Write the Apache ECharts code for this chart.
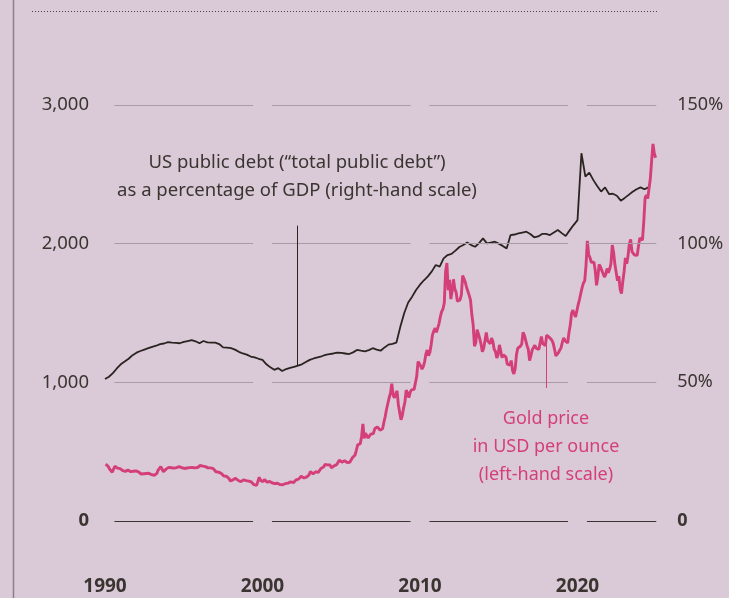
<!DOCTYPE html>
<html>
<head>
<meta charset="utf-8">
<script src="https://cdn.jsdelivr.net/npm/echarts@6/dist/echarts.min.js"></script>
<style>
  html, body { margin: 0; padding: 0; background: #dac9d6; }
  #chart { width: 729px; height: 598px; }
</style>
</head>
<body>
<div id="chart"></div>
<script>
// Gold price, USD per ounce, monthly from January 1990 to December 2024
const goldStartYear = 1990;
const goldMonthly = [
  410, 417, 393, 374, 369, 352, 362, 395, 389, 381, 381, 378,
  383, 363, 363, 358, 357, 367, 368, 356, 349, 359, 360, 361,
  354, 354, 345, 339, 337, 341, 353, 343, 345, 344, 335, 334,
  329, 330, 330, 342, 367, 372, 392, 379, 355, 364, 374, 383,
  387, 382, 384, 377, 381, 386, 385, 380, 392, 389, 384, 380,
  379, 377, 382, 391, 385, 387, 386, 383, 383, 383, 386, 387,
  400, 410, 396, 393, 392, 385, 383, 387, 383, 381, 378, 369,
  355, 346, 352, 344, 344, 341, 324, 324, 323, 325, 306, 289,
  289, 297, 296, 308, 299, 292, 293, 284, 289, 296, 294, 291,
  287, 288, 286, 282, 277, 262, 256, 257, 265, 315, 293, 283,
  284, 300, 286, 280, 275, 285, 282, 274, 273, 270, 266, 272,
  266, 262, 263, 261, 272, 270, 268, 273, 283, 283, 276, 276,
  282, 296, 294, 302, 314, 322, 314, 310, 319, 317, 319, 333,
  357, 359, 340, 328, 355, 356, 351, 360, 379, 379, 389, 407,
  414, 405, 406, 404, 383, 392, 398, 400, 406, 420, 439, 442,
  424, 423, 434, 429, 422, 431, 424, 438, 456, 470, 476, 510,
  549, 555, 557, 610, 700, 596, 633, 632, 598, 586, 627, 629,
  631, 665, 655, 679, 667, 655, 665, 665, 712, 754, 806, 803,
  889, 922, 990, 909, 888, 890, 939, 839, 829, 730, 760, 816,
  858, 943, 924, 890, 928, 946, 934, 949, 996, 1043, 1150, 1135,
  1118, 1095, 1114, 1148, 1205, 1233, 1193, 1215, 1271, 1342, 1370, 1391,
  1360, 1374, 1424, 1473, 1510, 1529, 1572, 1800, 1860, 1665, 1739, 1600,
  1656, 1743, 1674, 1650, 1585, 1596, 1594, 1630, 1770, 1747, 1722, 1684,
  1671, 1627, 1593, 1487, 1414, 1260, 1286, 1380, 1349, 1316, 1275, 1221,
  1244, 1300, 1360, 1299, 1287, 1279, 1320, 1296, 1239, 1222, 1176, 1200,
  1270, 1227, 1178, 1198, 1199, 1182, 1131, 1117, 1125, 1157, 1086, 1060,
  1097, 1200, 1246, 1242, 1260, 1276, 1360, 1340, 1326, 1266, 1238, 1157,
  1192, 1234, 1231, 1267, 1246, 1260, 1237, 1283, 1330, 1280, 1284, 1265,
  1340, 1331, 1325, 1335, 1304, 1281, 1238, 1190, 1198, 1215, 1221, 1250,
  1291, 1320, 1300, 1286, 1284, 1359, 1413, 1500, 1520, 1495, 1471, 1480,
  1560, 1597, 1592, 1683, 1716, 1732, 1846, 2020, 1922, 1900, 1866, 1858,
  1867, 1808, 1700, 1760, 1850, 1834, 1807, 1785, 1760, 1777, 1821, 1790,
  1817, 1856, 1990, 1937, 1849, 1837, 1733, 1765, 1670, 1640, 1726, 1798,
  1898, 1855, 1912, 1999, 2030, 1942, 1951, 1918, 1916, 1916, 1985, 2040,
  2034, 2025, 2160, 2330, 2350, 2326, 2398, 2470, 2600, 2720, 2650, 2620
];

// US total public debt as a percentage of GDP, quarterly from 1990 Q1 to 2024 Q3
const debtStartYear = 1990;
const debtQuarterly = [
  51.2, 52.0, 53.3, 55.0,
  56.5, 57.5, 58.5, 59.8,
  60.7, 61.3, 61.8, 62.3,
  62.8, 63.2, 63.8, 64.0,
  64.5, 64.3, 64.2, 64.1,
  64.6, 64.9, 65.2, 64.8,
  64.1, 64.9, 64.4, 64.3,
  64.3, 63.8, 62.6, 62.5,
  62.3, 61.8, 61.0, 60.4,
  60.0, 59.3, 59.0, 58.5,
  58.1, 56.5, 55.4, 54.5,
  55.1, 54.1, 54.8, 55.2,
  55.6, 56.0, 56.5, 57.3,
  58.1, 58.6, 59.0, 59.4,
  59.9, 60.2, 60.4, 60.7,
  60.6, 60.4, 60.2, 60.8,
  61.7, 61.4, 61.2, 61.6,
  62.3, 61.8, 61.4, 62.6,
  63.6, 63.9, 64.3, 70.0,
  75.0, 78.8, 80.9, 83.3,
  85.2, 86.8, 88.2, 90.0,
  92.3, 91.7, 94.7, 95.9,
  96.3, 97.5, 98.8, 99.5,
  100.4, 99.5, 98.9, 100.2,
  101.9, 100.1, 100.4, 100.7,
  100.0, 99.2, 98.3, 103.1,
  103.3, 103.7, 104.0, 104.3,
  103.5, 102.3, 102.6, 103.5,
  103.5, 103.1, 104.0, 104.9,
  103.8, 102.8, 104.8, 106.7,
  108.5, 132.6, 124.2, 125.6,
  123.0, 120.8, 118.8, 120.3,
  117.9, 118.0, 117.3, 115.5,
  116.5, 117.6, 118.7, 119.6,
  120.3, 119.6, 120.3
];

// Axis ticks
const yearTicks = [1990, 2000, 2010, 2020];
const goldTicks = [0, 1000, 2000, 3000];
const debtTicks = [0, 50, 100, 150];
const yearEnd = 2025;

const INK = '#3a3531';
const GOLD = '#d43f7a';
const DEBT = '#2a2421';
const GRID = '#a99aa6';

const goldData = goldMonthly.map((v, i) => [goldStartYear + (i + 0.5) / 12, v]);
const debtData = debtQuarterly.map((v, i) => [debtStartYear + i / 4, v]);

// Horizontal rules broken into decade segments with a small gap at each decade tick
const gap = 0.6;
const gridSegments = [];
goldTicks.forEach(t => {
  const bounds = yearTicks.concat([yearEnd]);
  for (let k = 0; k < yearTicks.length; k++) {
    const a = bounds[k] + gap;
    const b = k + 1 < yearTicks.length ? bounds[k + 1] - gap : yearEnd;
    gridSegments.push([
      { coord: [a, t], lineStyle: { color: t === 0 ? INK : GRID, width: 1, type: 'solid' } },
      { coord: [b, t] }
    ]);
  }
});

const chart = echarts.init(document.getElementById('chart'), null, { renderer: 'canvas' });

const labelFont = '"Noto Sans", "Open Sans", sans-serif';

chart.setOption({
  backgroundColor: '#dac9d6',
  animation: false,
  grid: { left: 105, right: 72.75, top: 105, bottom: 77 },
  xAxis: {
    type: 'value',
    min: 1990,
    max: yearEnd,
    interval: 10,
    axisLine: { show: false },
    axisTick: { show: false },
    splitLine: { show: false },
    axisLabel: {
      margin: 56,
      color: INK,
      fontFamily: labelFont,
      fontWeight: 'bold',
      fontSize: 19,
      showMaxLabel: false,
      formatter: v => (yearTicks.indexOf(v) >= 0 ? String(v) : '')
    }
  },
  yAxis: [
    {
      type: 'value',
      min: goldTicks[0],
      max: goldTicks[goldTicks.length - 1],
      interval: 1000,
      axisLine: { show: false },
      axisTick: { show: false },
      splitLine: { show: false },
      axisLabel: {
        margin: 16,
        color: INK,
        fontFamily: labelFont,
        fontSize: 18.5,
        formatter: v => (v === 0 ? '{z|0}' : v.toLocaleString('en-US')),
        rich: { z: { fontWeight: 'bold', fontSize: 18.5, color: INK, fontFamily: labelFont } }
      }
    },
    {
      type: 'value',
      min: debtTicks[0],
      max: debtTicks[debtTicks.length - 1],
      interval: 50,
      position: 'right',
      axisLine: { show: false },
      axisTick: { show: false },
      splitLine: { show: false },
      axisLabel: {
        margin: 21,
        color: INK,
        fontFamily: labelFont,
        fontSize: 18,
        formatter: v => (v === 0 ? '{z|0}' : v + '%'),
        rich: { z: { fontWeight: 'bold', fontSize: 18, color: INK, fontFamily: labelFont } }
      }
    }
  ],
  series: [
    {
      name: 'rules',
      type: 'line',
      data: [],
      z: 1,
      silent: true,
      markLine: {
        silent: true,
        symbol: 'none',
        label: { show: false },
        data: gridSegments
      }
    },
    {
      name: 'US public debt',
      type: 'line',
      yAxisIndex: 1,
      data: debtData,
      showSymbol: false,
      z: 3,
      lineStyle: { color: DEBT, width: 1.8 },
      itemStyle: { color: DEBT },
      markLine: {
        silent: true,
        symbol: 'none',
        label: { show: false },
        lineStyle: { color: DEBT, width: 1, type: 'solid' },
        data: [[{ coord: [2002.2, 106.5] }, { coord: [2002.2, 55.9] }]]
      }
    },
    {
      name: 'Gold price',
      type: 'line',
      data: goldData,
      showSymbol: false,
      z: 4,
      lineStyle: { color: GOLD, width: 2.9 },
      itemStyle: { color: GOLD },
      markLine: {
        silent: true,
        symbol: 'none',
        label: { show: false },
        lineStyle: { color: GOLD, width: 1, type: 'solid' },
        data: [[{ coord: [2018.0, 1300] }, { coord: [2018.0, 960] }]]
      }
    }
  ],
  graphic: [
    // frame: left rule and dotted top rule
    { type: 'line', silent: true, shape: { x1: 13.5, y1: 0, x2: 13.5, y2: 598 },
      style: { stroke: '#8c8189', lineWidth: 1.5 } },
    { type: 'line', silent: true, shape: { x1: 32, y1: 11.5, x2: 658, y2: 11.5 },
      style: { stroke: '#4a4440', lineWidth: 1, lineDash: [1, 2] } },
    // debt note
    { type: 'text', silent: true, x: 297, y: 163,
      style: { text: 'US public debt (“total public debt”)', align: 'center', verticalAlign: 'middle',
        fill: INK, font: '18.5px ' + labelFont } },
    { type: 'text', silent: true, x: 297, y: 191,
      style: { text: 'as a percentage of GDP (right-hand scale)', align: 'center', verticalAlign: 'middle',
        fill: INK, font: '18.5px ' + labelFont } },
    // gold note
    { type: 'text', silent: true, x: 546, y: 419,
      style: { text: 'Gold price', align: 'center', verticalAlign: 'middle',
        fill: GOLD, font: '18px ' + labelFont } },
    { type: 'text', silent: true, x: 546, y: 447,
      style: { text: 'in USD per ounce', align: 'center', verticalAlign: 'middle',
        fill: GOLD, font: '18px ' + labelFont } },
    { type: 'text', silent: true, x: 546, y: 475,
      style: { text: '(left-hand scale)', align: 'center', verticalAlign: 'middle',
        fill: GOLD, font: '18px ' + labelFont } }
  ]
});
</script>
</body>
</html>
